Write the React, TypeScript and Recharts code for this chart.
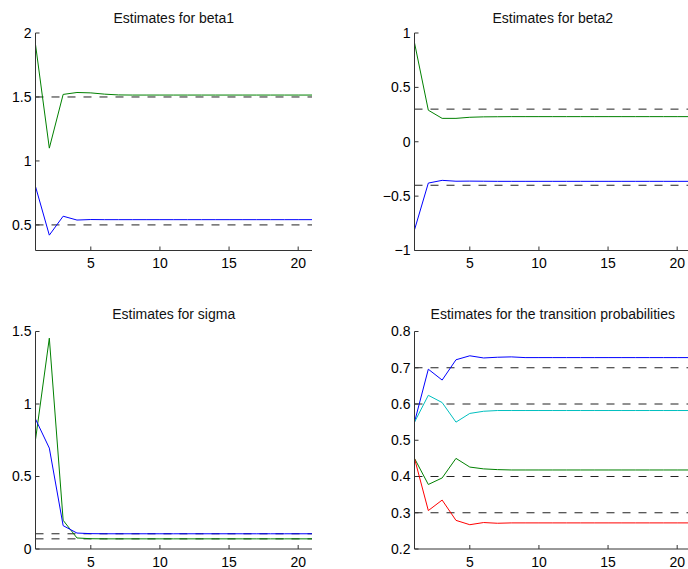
import React from 'react';
import { LineChart, Line, XAxis, YAxis, ReferenceLine } from 'recharts';

// iteration number on the x axis
const iterations = [1, 2, 3, 4, 5, 6, 7, 8, 9, 10, 11, 12, 13, 14, 15, 16, 17, 18, 19, 20, 21];

// beta1
const beta1Green = [1.91, 1.1, 1.52, 1.535, 1.532, 1.522, 1.516, 1.515, 1.515, 1.515, 1.515, 1.515, 1.515, 1.515, 1.515, 1.515, 1.515, 1.515, 1.515, 1.515, 1.515];
const beta1Blue = [0.8, 0.42, 0.568, 0.538, 0.542, 0.541, 0.541, 0.541, 0.541, 0.541, 0.541, 0.541, 0.541, 0.541, 0.541, 0.541, 0.541, 0.541, 0.541, 0.541, 0.541];
const beta1True = [1.5, 0.5];

// beta2
const beta2Green = [0.91, 0.29, 0.215, 0.215, 0.225, 0.229, 0.23, 0.231, 0.231, 0.231, 0.231, 0.231, 0.231, 0.231, 0.231, 0.231, 0.231, 0.231, 0.231, 0.231, 0.231];
const beta2Blue = [-0.81, -0.38, -0.355, -0.363, -0.362, -0.363, -0.364, -0.364, -0.364, -0.364, -0.364, -0.364, -0.364, -0.364, -0.364, -0.364, -0.364, -0.364, -0.364, -0.364, -0.364];
const beta2True = [0.3, -0.4];

// sigma
const sigmaGreen = [0.754, 1.454, 0.198, 0.076, 0.071, 0.07, 0.07, 0.07, 0.07, 0.07, 0.07, 0.07, 0.07, 0.07, 0.07, 0.07, 0.07, 0.07, 0.07, 0.07, 0.07];
const sigmaBlue = [0.896, 0.696, 0.161, 0.11, 0.106, 0.105, 0.105, 0.105, 0.105, 0.105, 0.105, 0.105, 0.105, 0.105, 0.105, 0.105, 0.105, 0.105, 0.105, 0.105, 0.105];
const sigmaTrue = [0.105, 0.07];

// transition probabilities
const pBlue = [0.55, 0.696, 0.666, 0.722, 0.733, 0.727, 0.729, 0.73, 0.728, 0.728, 0.728, 0.728, 0.728, 0.728, 0.728, 0.728, 0.728, 0.728, 0.728, 0.728, 0.728];
const pCyan = [0.55, 0.624, 0.604, 0.55, 0.574, 0.58, 0.582, 0.582, 0.582, 0.582, 0.582, 0.582, 0.582, 0.582, 0.582, 0.582, 0.582, 0.582, 0.582, 0.582, 0.582];
const pGreen = [0.45, 0.378, 0.396, 0.45, 0.426, 0.421, 0.419, 0.418, 0.418, 0.418, 0.418, 0.418, 0.418, 0.418, 0.418, 0.418, 0.418, 0.418, 0.418, 0.418, 0.418];
const pRed = [0.45, 0.306, 0.335, 0.279, 0.267, 0.273, 0.271, 0.272, 0.272, 0.272, 0.272, 0.272, 0.272, 0.272, 0.272, 0.272, 0.272, 0.272, 0.272, 0.272, 0.272];
const pTrue = [0.7, 0.6, 0.4, 0.3];

const xTicks = [5, 10, 15, 20];
const FONT = '"Liberation Sans", Arial, Helvetica, sans-serif';

const rows = (series: Record<string, number[]>) =>
  iterations.map((it, i) => {
    const r: any = { it };
    Object.keys(series).forEach((k) => (r[k] = series[k][i]));
    return r;
  });

const fmtNum = (v: number) => (v < 0 ? '\u2212' + Math.abs(v) : String(v));

function Panel({ left, top, plotLeft, plotTop, title, titleTop, data, lines, refs, domain, ticks, fmt }: any) {
  const W = 350;
  const H = 290;
  const plotW = 276.5;
  const plotH = 217.5;
  // axes take 1px each, the margins make up the rest
  return (
    <div style={{ position: 'absolute', left, top, width: W, height: H }}>
      <div
        style={{
          position: 'absolute',
          left: plotLeft,
          width: plotW,
          top: titleTop,
          textAlign: 'center',
          fontFamily: FONT,
          fontSize: 14,
          lineHeight: '16px',
          color: '#111',
          whiteSpace: 'nowrap',
        }}
      >
        {title}
      </div>
      <LineChart
        width={W}
        height={H}
        data={data}
        margin={{ top: plotTop, left: plotLeft - 1, right: W - plotLeft - plotW, bottom: H - plotTop - plotH - 1 }}
        style={{ position: 'absolute', left: 0, top: 0 }}
      >
        <XAxis
          dataKey="it"
          type="number"
          domain={[1, 21]}
          ticks={xTicks}
          height={1}
          allowDataOverflow
          stroke="#333"
          tickSize={-4}
          tickMargin={12}
          tick={{ fill: '#000', fontSize: 14, fontFamily: FONT }}
          interval={0}
        />
        <YAxis
          type="number"
          domain={domain}
          ticks={ticks}
          width={1}
          allowDataOverflow
          stroke="#333"
          tickSize={-4}
          tickMargin={8}
          tickFormatter={fmt}
          tick={{ fill: '#000', fontSize: 14, fontFamily: FONT }}
          interval={0}
        />
        {refs.map((v: number) => (
          <ReferenceLine key={v} y={v} stroke="#222" strokeDasharray="8 8" strokeWidth={1} />
        ))}
        {lines.map((l: any) => (
          <Line
            key={l.key}
            dataKey={l.key}
            stroke={l.color}
            strokeWidth={1}
            dot={false}
            activeDot={false}
            type="linear"
            isAnimationActive={false}
          />
        ))}
      </LineChart>
    </div>
  );
}

export default function App() {
  return (
    <div style={{ position: 'absolute', left: 0, top: 0, width: 688, height: 569, overflow: 'hidden', background: '#fff' }}>
      <Panel
        left={0}
        top={0}
        plotLeft={35.5}
        plotTop={33}
        titleTop={10}
        title="Estimates for beta1"
        data={rows({ g: beta1Green, b: beta1Blue })}
        lines={[{ key: 'b', color: '#0000ff' }, { key: 'g', color: '#008000' }]}
        refs={beta1True}
        domain={[0.3, 2]}
        ticks={[0.5, 1, 1.5, 2]}
        fmt={fmtNum}
      />
      <Panel
        left={350}
        top={0}
        plotLeft={64.5}
        plotTop={33}
        titleTop={10}
        title="Estimates for beta2"
        data={rows({ g: beta2Green, b: beta2Blue })}
        lines={[{ key: 'b', color: '#0000ff' }, { key: 'g', color: '#008000' }]}
        refs={beta2True}
        domain={[-1, 1]}
        ticks={[-1, -0.5, 0, 0.5, 1]}
        fmt={fmtNum}
      />
      <Panel
        left={0}
        top={290}
        plotLeft={35.5}
        plotTop={41.5}
        titleTop={16}
        title="Estimates for sigma"
        data={rows({ g: sigmaGreen, b: sigmaBlue })}
        lines={[{ key: 'g', color: '#008000' }, { key: 'b', color: '#0000ff' }]}
        refs={sigmaTrue}
        domain={[0, 1.5]}
        ticks={[0, 0.5, 1, 1.5]}
        fmt={fmtNum}
      />
      <Panel
        left={350}
        top={290}
        plotLeft={64.5}
        plotTop={41.5}
        titleTop={16}
        title="Estimates for the transition probabilities"
        data={rows({ b: pBlue, c: pCyan, g: pGreen, r: pRed })}
        lines={[
          { key: 'b', color: '#0000ff' },
          { key: 'c', color: '#00bfbf' },
          { key: 'g', color: '#008000' },
          { key: 'r', color: '#ff0000' },
        ]}
        refs={pTrue}
        domain={[0.2, 0.8]}
        ticks={[0.2, 0.3, 0.4, 0.5, 0.6, 0.7, 0.8]}
        fmt={(v: number) => v.toFixed(1)}
      />
    </div>
  );
}
